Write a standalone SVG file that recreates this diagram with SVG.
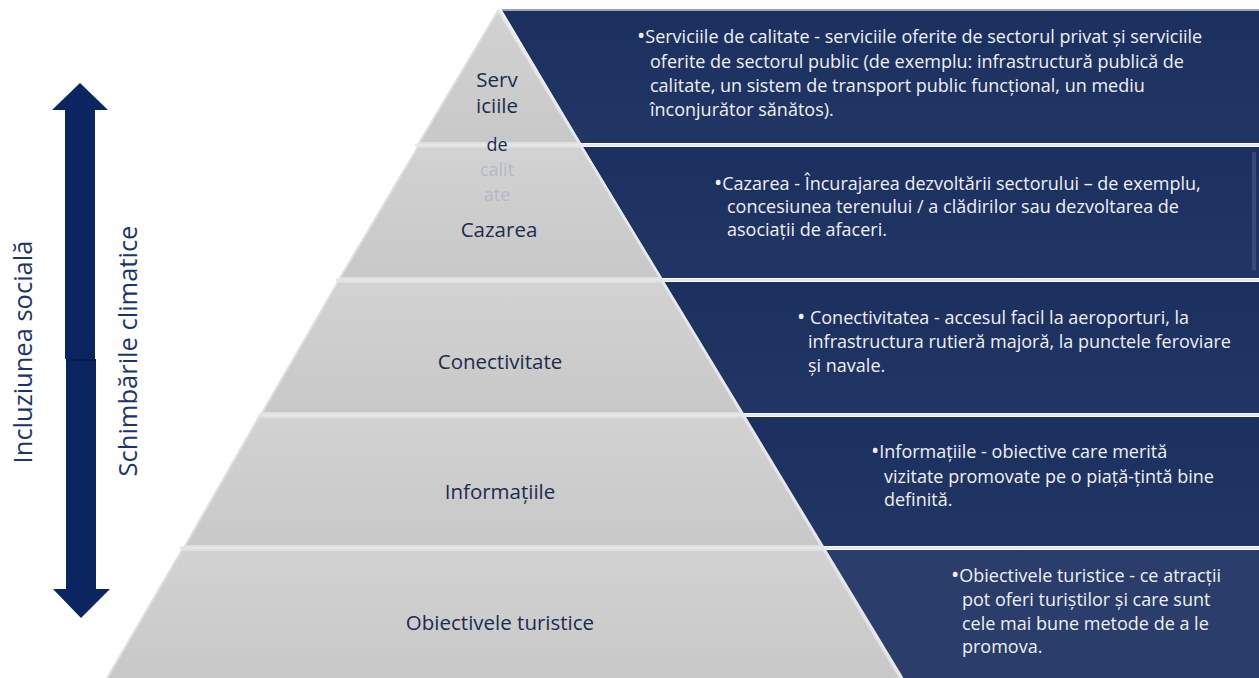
<svg xmlns="http://www.w3.org/2000/svg" width="1259" height="678" viewBox="0 0 1259 678">
<defs>
<linearGradient id="tierGrad" x1="0" y1="0" x2="0" y2="1">
<stop offset="0" stop-color="#d2d2d2"/>
<stop offset="1" stop-color="#c8c8c8"/>
</linearGradient>
<linearGradient id="bandGrad" x1="0" y1="0" x2="0" y2="1">
<stop offset="0" stop-color="#1c3060"/>
<stop offset="1" stop-color="#213665"/>
</linearGradient>
</defs>
<style>
.tier{fill:url(#tierGrad);stroke:#dedede;stroke-width:2}
.band{fill:url(#bandGrad)}
.bandlow{fill:#2b3d6a}
.lbl{font-family:"Open Sans","Noto Sans",sans-serif;font-size:20.5px;fill:#1e2b4d;text-anchor:middle}
.stack{font-size:18px}
.faded{fill:#b4b9c6}
.desc{font-family:"Open Sans","Noto Sans",sans-serif;font-size:18px;fill:#eef0f5}
.bul{font-size:22px}
.side{font-family:"Open Sans","Noto Sans",sans-serif;font-size:25.5px;fill:#1c3468;text-anchor:middle}
.sep{stroke:#e4e6ea;stroke-width:2.5}
</style>
<rect width="1259" height="678" fill="#ffffff"/>

<!-- dark bands on the right -->
<g id="band-1">
<polygon class="band" points="502,10 1259,10 1259,143 581,143"/>
<line x1="502" y1="10" x2="1259" y2="10" stroke="#9aa3b5" stroke-width="2"/>
<text class="desc" x="637" y="43"><tspan class="bul">•</tspan>Serviciile de calitate - serviciile oferite de sectorul privat și serviciile</text>
<text class="desc" x="650" y="68">oferite de sectorul public (de exemplu: infrastructură publică de</text>
<text class="desc" x="650" y="92">calitate, un sistem de transport public funcțional, un mediu</text>
<text class="desc" x="650" y="116">înconjurător sănătos).</text>
</g>
<g id="band-2">
<polygon class="band" points="583,147 1259,147 1259,278 662,278"/>
<rect x="1252" y="152" width="4" height="118" fill="#59668a" opacity="0.45"/>
<text class="desc" x="714" y="190"><tspan class="bul">•</tspan>Cazarea - Încurajarea dezvoltării sectorului – de exemplu,</text>
<text class="desc" x="727" y="213">concesiunea terenului / a clădirilor sau dezvoltarea de</text>
<text class="desc" x="727" y="236">asociații de afaceri.</text>
</g>
<g id="band-3">
<polygon class="band" points="664,282 1259,282 1259,413 743,413"/>
<text class="desc" x="797" y="324"><tspan class="bul">•</tspan> Conectivitatea - accesul facil la aeroporturi, la</text>
<text class="desc" x="808" y="348">infrastructura rutieră majoră, la punctele feroviare</text>
<text class="desc" x="808" y="372">și navale.</text>
</g>
<g id="band-4">
<polygon class="band" points="745,417 1259,417 1259,546 823,546"/>
<text class="desc" x="871" y="458"><tspan class="bul">•</tspan>Informațiile  - obiective care merită</text>
<text class="desc" x="884" y="483">vizitate promovate pe o piață-țintă bine</text>
<text class="desc" x="884" y="506">definită.</text>
</g>
<g id="band-5">
<polygon class="bandlow" points="825,550 1259,550 1259,678 903,678"/>
<text class="desc" x="951" y="582"><tspan class="bul">•</tspan>Obiectivele turistice - ce atracții</text>
<text class="desc" x="962" y="606">pot oferi turiștilor și care sunt</text>
<text class="desc" x="962" y="630">cele mai bune metode de a le</text>
<text class="desc" x="962" y="653">promova.</text>
</g>

<!-- pyramid tiers -->
<g id="tier-1">
<polygon class="tier" points="498,11 579,143 419,143"/>
</g>
<g id="tier-2">
<polygon class="tier" points="418,147 581,147 660,278 340,278"/>
</g>
<g id="tier-3">
<polygon class="tier" points="338,282 662,282 741,413 262,413"/>
</g>
<g id="tier-4">
<polygon class="tier" points="259,417 743,417 821,546 185,546"/>
</g>
<g id="tier-5">
<polygon class="tier" points="182,550 823,550 901,680 106,680"/>
</g>

<!-- separator lines -->
<g id="separators">
<line class="sep" x1="415" y1="145" x2="1259" y2="145"/>
<line class="sep" x1="336" y1="280" x2="1259" y2="280"/>
<line class="sep" x1="258" y1="415" x2="1259" y2="415"/>
<line class="sep" x1="180" y1="548" x2="1259" y2="548"/>
<line x1="499" y1="10" x2="902" y2="678" stroke="#e8e8e8" stroke-width="2.5"/>
</g>

<!-- tier labels -->
<g id="tier-labels">
<text class="lbl" x="497" y="87">Serv</text>
<text class="lbl" x="497" y="113">iciile</text>
<text class="lbl stack" x="497" y="151">de</text>
<text class="lbl stack faded" x="497" y="176">calit</text>
<text class="lbl stack faded" x="497" y="201">ate</text>
<text class="lbl" x="499" y="237">Cazarea</text>
<text class="lbl" x="500" y="369">Conectivitate</text>
<text class="lbl" x="500" y="499">Informațiile</text>
<text class="lbl" x="500" y="630">Obiectivele turistice</text>
</g>

<!-- double arrow -->
<g id="connectors">
<polygon fill="#0b2560" points="80,83 108,110 95,110 95,359 65,359 65,110 52,110"/>
<polygon fill="#0b2560" points="66,359 96,359 96,589 110,589 81,618 53,589 66,589"/>
<line x1="66" y1="360" x2="96" y2="360" stroke="#081c4a" stroke-width="1.5"/>
</g>

<g id="side-labels">
<text class="side" transform="translate(32,352) rotate(-90)">Incluziunea socială</text>
<text class="side" transform="translate(137,351) rotate(-90)">Schimbările climatice</text>
</g>
</svg>
